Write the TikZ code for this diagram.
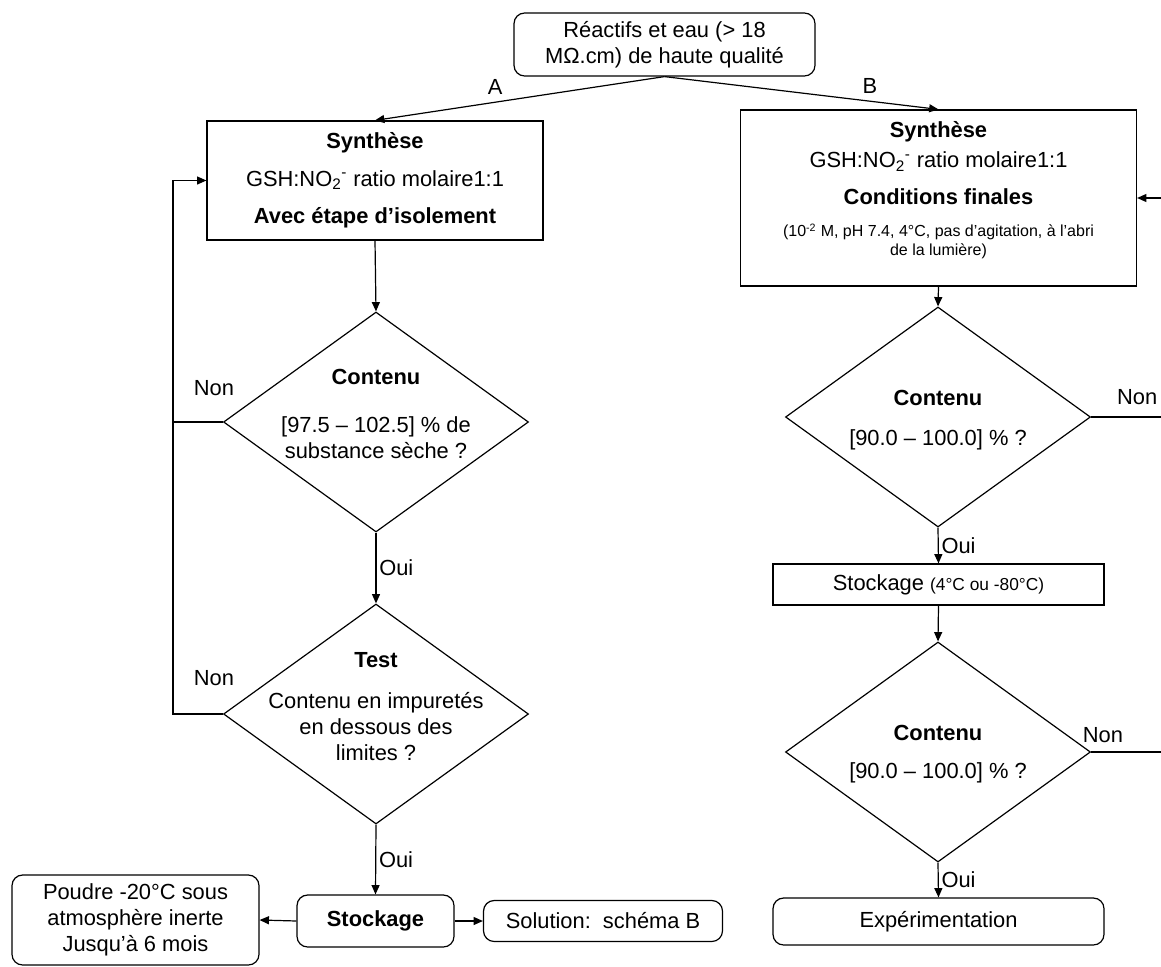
\documentclass[tikz,border=0pt]{standalone}
\usepackage{fontspec}
\setmainfont{Liberation Sans}
\usetikzlibrary{shapes.geometric,arrows.meta}
\newcommand{\smallsz}{\fontsize{12}{13.7}\selectfont}

\begin{document}
\fontsize{16.4}{19.5}\selectfont
\begin{tikzpicture}[x=0.75pt,y=-0.75pt,line width=0.9pt,
  arr/.style={-{Triangle[length=7pt,width=6pt]}},
  procbox/.style={draw,rectangle,inner sep=0pt,align=center},
  endbox/.style={procbox,rounded corners=8pt},
  decision/.style={draw,diamond,inner sep=0pt,minimum width=228.75pt,minimum height=165pt},
  lbl/.style={inner sep=2pt}]
  \useasboundingbox (0,0) rectangle (1161,967);
  \coordinate (Lloop) at (173,0);
  \coordinate (Rin) at (1161,198);
  \coordinate (Rout1) at (1161,417);
  \coordinate (Rout2) at (1161,752);

  % start
  \node[endbox,minimum width=225.75pt,minimum height=47.25pt] (Top) at (664.5,44.5)
    {Réactifs et eau (> 18\\ MΩ.cm) de haute qualité};

  % scheme A
  \node[procbox,minimum width=252pt,minimum height=89.25pt] (Asyn) at (375,180.5)
    {\textbf{Synthèse}\\[8.5pt] GSH:NO\textsubscript{2}\textsuperscript{-} ratio molaire1:1\\[8.5pt] \textbf{Avec étape d’isolement}};
  \node[decision] (Acont) at (376,422) {};
  \node[font=\bfseries] (AcontT) at (376,377) {Contenu};
  \node[align=center] (AcontQ) at (376,437.5) {[97.5 – 102.5] \% de\\ substance sèche ?};
  \node[decision] (Atest) at (376,714) {};
  \node[font=\bfseries] (AtestT) at (376,660) {Test};
  \node[align=center] (AtestQ) at (376,726.5) {Contenu en impuretés\\ en dessous des\\ limites ?};
  \node[endbox,minimum width=117.75pt,minimum height=39pt,font=\bfseries] (Astock) at (375.5,921) {Stockage};
  \node[endbox,minimum width=185.25pt,minimum height=67.5pt] (Apowder) at (135.5,920)
    {Poudre -20°C sous\\ atmosphère inerte\\ Jusqu’à 6 mois};
  \node[endbox,minimum width=179.25pt,minimum height=30.75pt] (Asol) at (603,921) {Solution:\ \ schéma B};

  % scheme B
  \node[procbox,minimum width=297pt,minimum height=132pt] (Bsyn) at (938.5,198) {};
  \node[font=\bfseries] (BsynT) at (938.5,131.7) {Synthèse};
  \node (BsynR) at (938.5,161.7) {GSH:NO\textsubscript{2}\textsuperscript{-} ratio molaire1:1};
  \node[font=\bfseries] (BsynC) at (938.5,196.7) {Conditions finales};
  \node[align=center,font=\smallsz] (BsynP) at (938.5,241)
    {(10\textsuperscript{-2} M, pH 7.4, 4°C, pas d’agitation, à l’abri\\ de la lumière)};
  \node[decision] (Bcont) at (938,417) {};
  \node[font=\bfseries] (BcontT) at (938,398) {Contenu};
  \node (BcontQ) at (938,440) {[90.0 – 100.0] \% ?};
  \node[procbox,minimum width=248.25pt,minimum height=30.75pt] (Bstock) at (938.5,584.5)
    {Stockage {\fontsize{13}{15}\selectfont(4°C ou -80°C)}};
  \node[decision] (Bchk) at (938,752) {};
  \node[font=\bfseries] (BchkT) at (938,733) {Contenu};
  \node (BchkQ) at (938,773) {[90.0 – 100.0] \% ?};
  \node[endbox,minimum width=248.25pt,minimum height=35.25pt] (Bexp) at (938.5,921.5) {Expérimentation};

  % connectors
  \draw[arr] (Top.south) -- node[above,pos=0.585] {A} (Asyn.north);
  \draw[arr] (Top.south) -- node[above,pos=0.75] {B} (Bsyn.north);
  \draw[arr] (Asyn.south) -- (Acont.north);
  \draw[arr] (Acont.south) -- node[right,lbl] {Oui} (Atest.north);
  \draw[arr] (Atest.south) -- node[right,lbl] {Oui} (Astock.north);
  \draw (Acont.west) -- node[above=14pt,pos=0.18] {Non} (Acont.west -| Lloop);
  \draw[arr] (Atest.west) -- node[above=15pt,pos=0.18] {Non} (Atest.west -| Lloop) |- (Asyn.west);
  \draw[arr] (Astock.west) -- (Apowder.east);
  \draw[arr] (Astock.east) -- (Asol.west);
  \draw[arr] (Rin) -- (Bsyn.east);
  \draw[arr] (Bsyn.south) -- (Bcont.north);
  \draw[arr] (Bcont.south) -- node[right,lbl] {Oui} (Bstock.north);
  \draw (Bcont.east) -- node[above=3pt,pos=0.66] {Non} (Rout1);
  \draw[arr] (Bstock.south) -- (Bchk.north);
  \draw[arr] (Bchk.south) -- node[right,lbl] {Oui} (Bexp.north);
  \draw (Bchk.east) -- node[above=1pt,pos=0.17] {Non} (Rout2);
\end{tikzpicture}
\end{document}
